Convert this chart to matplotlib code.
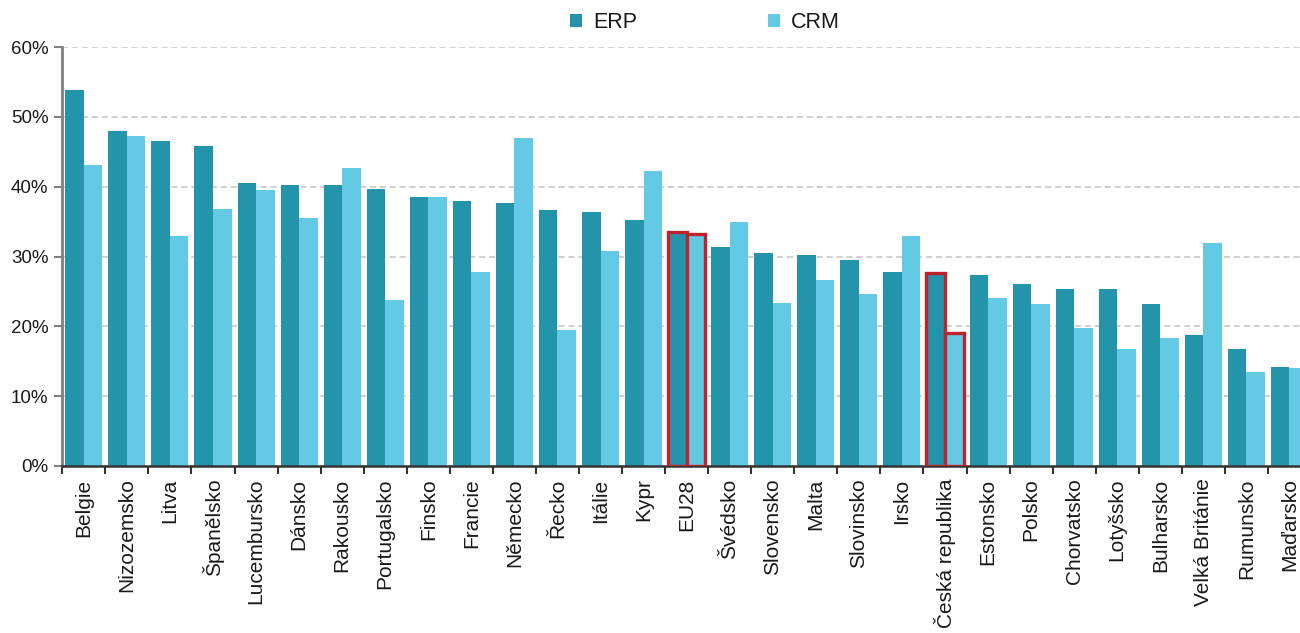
import numpy as np
import matplotlib
matplotlib.use("Agg")
import matplotlib.pyplot as plt
from matplotlib.patches import Patch
from matplotlib.ticker import PercentFormatter

plt.rcParams['font.family'] = ['Liberation Sans', 'DejaVu Sans']

# Data (shares of enterprises, %)
countries = ["Belgie", "Nizozemsko", "Litva", "Španělsko", "Lucembursko", "Dánsko",
             "Rakousko", "Portugalsko", "Finsko", "Francie", "Německo", "Řecko",
             "Itálie", "Kypr", "EU28", "Švédsko", "Slovensko", "Malta", "Slovinsko",
             "Irsko", "Česká republika", "Estonsko", "Polsko", "Chorvatsko",
             "Lotyšsko", "Bulharsko", "Velká Británie", "Rumunsko", "Maďarsko"]
erp = [53.9, 47.9, 46.6, 45.8, 40.5, 40.3, 40.3, 39.7, 38.5, 37.9, 37.6, 36.6,
       36.4, 35.2, 33.5, 31.3, 30.5, 30.2, 29.5, 27.8, 27.6, 27.4, 26.0, 25.4,
       25.4, 23.2, 18.8, 16.8, 14.2]
crm = [43.1, 47.3, 33.0, 36.8, 39.5, 35.5, 42.7, 23.8, 38.5, 27.8, 46.9, 19.5,
       30.8, 42.3, 33.2, 35.0, 23.4, 26.7, 24.7, 33.0, 19.0, 24.1, 23.2, 19.7,
       16.8, 18.4, 31.9, 13.5, 14.0]
highlight = ["EU28", "Česká republika"]

c_erp = "#2494ab"
c_crm = "#63c9e5"
c_red = "#c0222b"

fig = plt.figure(figsize=(13, 6.33), dpi=100)
# the original picture is cropped on the right, so the axes run past the edge
ax = fig.add_axes([62.3 / 1300, 1 - 466 / 633, (1311 - 62.3) / 1300, (466 - 47) / 633])

x = np.arange(len(countries))
w = 0.43
b1 = ax.bar(x - w / 2, erp, w, color=c_erp, linewidth=0, zorder=2)
b2 = ax.bar(x + w / 2, crm, w, color=c_crm, linewidth=0, zorder=2)

# red frames around the highlighted bars
for i, name in enumerate(countries):
    if name in highlight:
        for bars in (b1, b2):
            bars[i].set_edgecolor(c_red)
            bars[i].set_linewidth(2.4)
            bars[i].set_zorder(3)

ax.set_xlim(-0.5, len(countries) - 0.5)
ax.set_ylim(0, 60)
ax.set_yticks(np.arange(0, 61, 10))
ax.yaxis.set_major_formatter(PercentFormatter(decimals=0))
ax.yaxis.grid(True, color="#c4c4c4", linestyle=(0, (4, 2.5)), linewidth=1.1, zorder=0)
ax.set_axisbelow(True)

# ticks between categories, labels at the centres
ax.set_xticks(np.arange(len(countries) + 1) - 0.5)
ax.set_xticklabels([])
ax.set_xticks(x, minor=True)
ax.set_xticklabels(countries, minor=True, rotation=90, fontsize=15, va="top", color="#1a1a1a")
ax.tick_params(axis="x", which="major", length=6, width=1.5, color="#333333", direction="out")
ax.tick_params(axis="x", which="minor", length=0, pad=9)
ax.tick_params(axis="y", length=6, width=1.5, color="#808080", labelsize=13.5, pad=4,
               labelcolor="#1a1a1a")

for s in ["top", "right"]:
    ax.spines[s].set_visible(False)
ax.spines["left"].set_color("#808080")
ax.spines["left"].set_linewidth(2)
ax.spines["bottom"].set_color("#333333")
ax.spines["bottom"].set_linewidth(1.8)

handles = [Patch(facecolor=c_erp, label="ERP"), Patch(facecolor=c_crm, label="CRM")]
fig.legend(handles=handles, loc="center", bbox_to_anchor=(0.5423, 0.9637), ncol=2,
           frameon=False, fontsize=15.5, handlelength=0.55, handleheight=0.55,
           handletextpad=0.5, columnspacing=6.1, labelcolor="#1a1a1a")

fig.savefig("out.png", dpi=100)
